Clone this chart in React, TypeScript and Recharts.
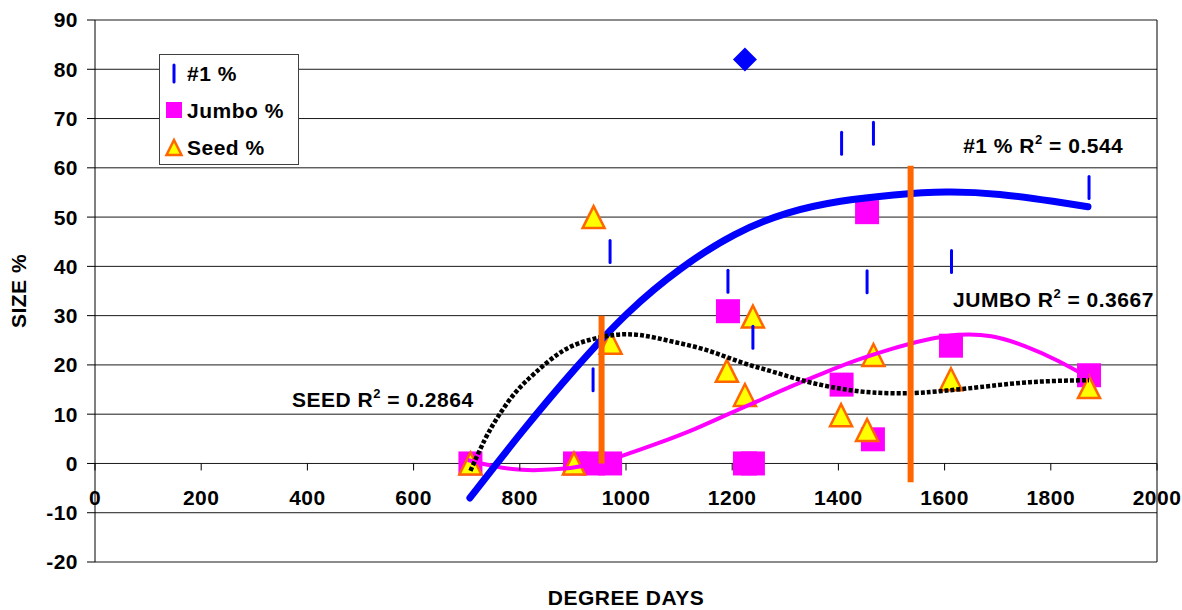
import React from "react";
import {
  CartesianGrid,
  ComposedChart,
  Label,
  Legend,
  Line,
  ReferenceDot,
  ReferenceLine,
  Scatter,
  XAxis,
  YAxis,
} from "recharts";

// tick labels
const xTicks = [0, 200, 400, 600, 800, 1000, 1200, 1400, 1600, 1800, 2000];
const yTicks = [-20, -10, 0, 10, 20, 30, 40, 50, 60, 70, 80, 90];

// observed points (degree days, size %)
const no1Points = [
  { x: 938, y: 17 },
  { x: 970, y: 43 },
  { x: 1192, y: 37 },
  { x: 1239, y: 25.6 },
  { x: 1406, y: 65 },
  { x: 1454, y: 36.9 },
  { x: 1466, y: 67 },
  { x: 1613, y: 41 },
  { x: 1872, y: 56 },
];
const no1Outlier = [{ x: 1224, y: 82 }];
const jumboPoints = [
  { x: 707, y: 0 },
  { x: 904, y: 0 },
  { x: 938, y: 0 },
  { x: 970, y: 0 },
  { x: 1192, y: 30.9 },
  { x: 1224, y: 0 },
  { x: 1239, y: 0 },
  { x: 1406, y: 16 },
  { x: 1454, y: 51 },
  { x: 1465, y: 4.9 },
  { x: 1612, y: 23.9 },
  { x: 1872, y: 17.9 },
];
const seedPoints = [
  { x: 707, y: 0 },
  { x: 902, y: 0 },
  { x: 939, y: 50 },
  { x: 971, y: 24.5 },
  { x: 1190, y: 18.8 },
  { x: 1224, y: 13.9 },
  { x: 1239, y: 29.8 },
  { x: 1405, y: 9.8 },
  { x: 1454, y: 6.8 },
  { x: 1466, y: 22 },
  { x: 1612, y: 17.1 },
  { x: 1872, y: 15.5 },
];

// trend curves
const no1Trend = [
  { x: 706, y: -7 },
  { x: 804, y: 6.4 },
  { x: 904, y: 19.2 },
  { x: 1004, y: 30.6 },
  { x: 1104, y: 39.6 },
  { x: 1204, y: 46.4 },
  { x: 1304, y: 50.8 },
  { x: 1404, y: 53.2 },
  { x: 1504, y: 54.5 },
  { x: 1604, y: 55.1 },
  { x: 1704, y: 54.6 },
  { x: 1804, y: 53.2 },
  { x: 1870, y: 52.1 },
];
const seedTrend = [
  { x: 707, y: -1.5 },
  { x: 734, y: 4.8 },
  { x: 759, y: 9.5 },
  { x: 791, y: 14.3 },
  { x: 829, y: 18.4 },
  { x: 879, y: 22.7 },
  { x: 929, y: 25 },
  { x: 979, y: 26.1 },
  { x: 1030, y: 26 },
  { x: 1089, y: 24.7 },
  { x: 1152, y: 23 },
  { x: 1215, y: 20.6 },
  { x: 1277, y: 18.6 },
  { x: 1341, y: 16.6 },
  { x: 1403, y: 15.2 },
  { x: 1465, y: 14.4 },
  { x: 1541, y: 14.3 },
  { x: 1604, y: 14.8 },
  { x: 1667, y: 15.5 },
  { x: 1761, y: 16.5 },
  { x: 1872, y: 16.9 },
];
const jumboTrend = [
  { x: 702, y: 0.7 },
  { x: 753, y: -0.6 },
  { x: 804, y: -1.3 },
  { x: 866, y: -1.2 },
  { x: 929, y: -0.3 },
  { x: 994, y: 1.6 },
  { x: 1058, y: 4 },
  { x: 1121, y: 6.6 },
  { x: 1184, y: 9.6 },
  { x: 1247, y: 12.6 },
  { x: 1310, y: 15.6 },
  { x: 1373, y: 18.4 },
  { x: 1436, y: 21 },
  { x: 1499, y: 23.2 },
  { x: 1562, y: 25 },
  { x: 1625, y: 26.1 },
  { x: 1688, y: 25.8 },
  { x: 1751, y: 23.8 },
  { x: 1814, y: 20.8 },
  { x: 1872, y: 17.4 },
];

// orange marker lines
const cutoffs = [
  { x: 954, from: 0, to: 30 },
  { x: 1536, from: -3.8, to: 60.4 },
];

const annotations = [
  { x: 1635, y: 63, pre: "#1 % R", post: " = 0.544" },
  { x: 1616, y: 31.8, pre: "JUMBO R", post: " = 0.3667" },
  { x: 371, y: 11.5, pre: "SEED R", post: " = 0.2864" },
];

const legendItems = [
  { name: "#1 %", kind: "dash" },
  { name: "Jumbo %", kind: "square" },
  { name: "Seed %", kind: "triangle" },
];

const FONT = '"Liberation Sans", Arial, Helvetica, sans-serif';
const FS = 21;
const LS = 0.5;
const BLUE = "#0000FF";
const MAGENTA = "#FF00FF";
const ORANGE = "#FF6600";
const YELLOW = "#FFFF00";

const W = 1182;
const H = 610;
const MARGIN = { top: 20, right: 25, bottom: 0, left: 0 };
const X_AXIS_H = 48;
const Y_MIN = -20;
const Y_MAX = 90;
const PLOT_H = H - MARGIN.top - MARGIN.bottom - X_AXIS_H;
const ZERO_Y = MARGIN.top + (PLOT_H * Y_MAX) / (Y_MAX - Y_MIN);

const DashShape = (p: any) => (
  <line x1={p.cx} x2={p.cx} y1={p.cy - 11} y2={p.cy + 11} stroke={BLUE} strokeWidth={3} strokeLinecap="round" />
);
const SquareShape = (p: any) => <rect x={p.cx - 12} y={p.cy - 12} width={24} height={24} fill={MAGENTA} />;
const TriangleShape = (p: any) => (
  <polygon
    points={`${p.cx},${p.cy - 11} ${p.cx + 11},${p.cy + 11} ${p.cx - 11},${p.cy + 11}`}
    fill={YELLOW}
    stroke={ORANGE}
    strokeWidth={2.5}
  />
);
const DiamondShape = (p: any) => (
  <polygon points={`${p.cx},${p.cy - 12} ${p.cx + 12},${p.cy} ${p.cx},${p.cy + 12} ${p.cx - 12},${p.cy}`} fill={BLUE} />
);

// x axis sits on y = 0, not at the bottom of the plot
const XTick = ({ x, payload }: any) => (
  <g>
    <line x1={x} x2={x} y1={ZERO_Y} y2={ZERO_Y + 7} stroke="#000" />
    <text
      x={x}
      y={ZERO_Y + 42}
      textAnchor="middle"
      fontSize={FS}
      fontWeight={700}
      fontFamily={FONT}
      letterSpacing={LS}
      fill="#000"
    >
      {payload.value}
    </text>
  </g>
);

const AnnotationText = ({ cx, cy, a }: any) => (
  <text
    x={cx}
    y={cy}
    fontSize={FS}
    fontWeight={700}
    fontFamily={FONT}
    letterSpacing={LS}
    fill="#000"
    style={{ whiteSpace: "pre" }}
  >
    <tspan>{a.pre}</tspan>
    <tspan dy={-9} fontSize={13}>
      2
    </tspan>
    <tspan dy={9}>{a.post}</tspan>
  </text>
);

const LegendIcon = ({ kind }: { kind: string }) => (
  <svg width={27} height={37} style={{ flex: "none", display: "block" }}>
    {kind === "dash" && <line x1={14} x2={14} y1={10} y2={27} stroke={BLUE} strokeWidth={3} strokeLinecap="round" />}
    {kind === "square" && <rect x={6} y={10} width={16} height={16} fill={MAGENTA} />}
    {kind === "triangle" && <polygon points="14,11 21.5,26 6.5,26" fill={YELLOW} stroke={ORANGE} strokeWidth={2.5} />}
  </svg>
);

const renderLegend = () => (
  <div
    style={{
      width: 140,
      height: 111,
      boxSizing: "border-box",
      border: "1px solid #404040",
      background: "#fff",
      fontFamily: FONT,
    }}
  >
    {legendItems.map((item) => (
      <div key={item.name} style={{ display: "flex", alignItems: "center", height: 37 }}>
        <LegendIcon kind={item.kind} />
        <span
          style={{
            fontSize: FS,
            fontWeight: 700,
            letterSpacing: LS,
            lineHeight: "37px",
            color: "#000",
            whiteSpace: "nowrap",
          }}
        >
          {item.name}
        </span>
      </div>
    ))}
  </div>
);

export default function App() {
  return (
    <div style={{ position: "absolute", left: 0, top: 0, width: W, height: H, background: "#fff", fontFamily: FONT }}>
      <ComposedChart width={W} height={H} margin={MARGIN}>
        <CartesianGrid horizontal vertical={false} stroke="#000" strokeOpacity={0.9} />
        <XAxis
          type="number"
          dataKey="x"
          domain={[0, 2000]}
          ticks={xTicks}
          interval={0}
          height={X_AXIS_H}
          axisLine={false}
          tickLine={false}
          tick={<XTick />}
        >
          <Label
            value="DEGREE DAYS"
            position="insideBottom"
            offset={5}
            fontSize={FS}
            fontWeight={700}
            fill="#000"
            fontFamily={FONT}
            style={{ letterSpacing: LS }}
          />
        </XAxis>
        <YAxis
          type="number"
          dataKey="y"
          domain={[Y_MIN, Y_MAX]}
          ticks={yTicks}
          interval={0}
          width={95}
          axisLine={{ stroke: "#000" }}
          tickLine={{ stroke: "#000" }}
          tickSize={8}
          tickMargin={9}
          tick={{ fontSize: FS, fontWeight: 700, fill: "#000", fontFamily: FONT, letterSpacing: LS }}
        >
          <Label
            value="SIZE %"
            angle={-90}
            position="insideLeft"
            offset={19}
            fontSize={FS}
            fontWeight={700}
            fill="#000"
            fontFamily={FONT}
            style={{ textAnchor: "middle", letterSpacing: LS }}
          />
        </YAxis>
        <ReferenceLine x={2000} stroke="#000" />

        <Scatter name="Jumbo %" data={jumboPoints} shape={SquareShape} isAnimationActive={false} />
        <Scatter name="Seed %" data={seedPoints} shape={TriangleShape} isAnimationActive={false} />
        <Scatter name="#1 %" data={no1Points} shape={DashShape} isAnimationActive={false} />
        <Scatter name="#1 % peak" data={no1Outlier} shape={DiamondShape} legendType="none" isAnimationActive={false} />

        <Line
          data={jumboTrend}
          dataKey="y"
          type="natural"
          stroke={MAGENTA}
          strokeWidth={4}
          dot={false}
          activeDot={false}
          legendType="none"
          zIndex={700}
          isAnimationActive={false}
        />
        <Line
          data={no1Trend}
          dataKey="y"
          type="natural"
          stroke={BLUE}
          strokeWidth={7}
          strokeLinecap="round"
          dot={false}
          activeDot={false}
          legendType="none"
          zIndex={710}
          isAnimationActive={false}
        />
        <Line
          data={seedTrend}
          dataKey="y"
          type="natural"
          stroke="#000"
          strokeWidth={4.5}
          strokeDasharray="4 2"
          dot={false}
          activeDot={false}
          legendType="none"
          zIndex={720}
          isAnimationActive={false}
        />
        {cutoffs.map((c) => (
          <ReferenceLine
            key={c.x}
            segment={[
              { x: c.x, y: c.from },
              { x: c.x, y: c.to },
            ]}
            stroke={ORANGE}
            strokeWidth={6}
            zIndex={800}
          />
        ))}
        {annotations.map((a) => (
          <ReferenceDot key={a.pre} x={a.x} y={a.y} r={0} shape={(p: any) => <AnnotationText {...p} a={a} />} />
        ))}
        <Legend
          layout="vertical"
          align="center"
          verticalAlign="middle"
          content={renderLegend}
          wrapperStyle={{ left: 159, top: 54, width: 140, height: 111 }}
        />
      </ComposedChart>
    </div>
  );
}
